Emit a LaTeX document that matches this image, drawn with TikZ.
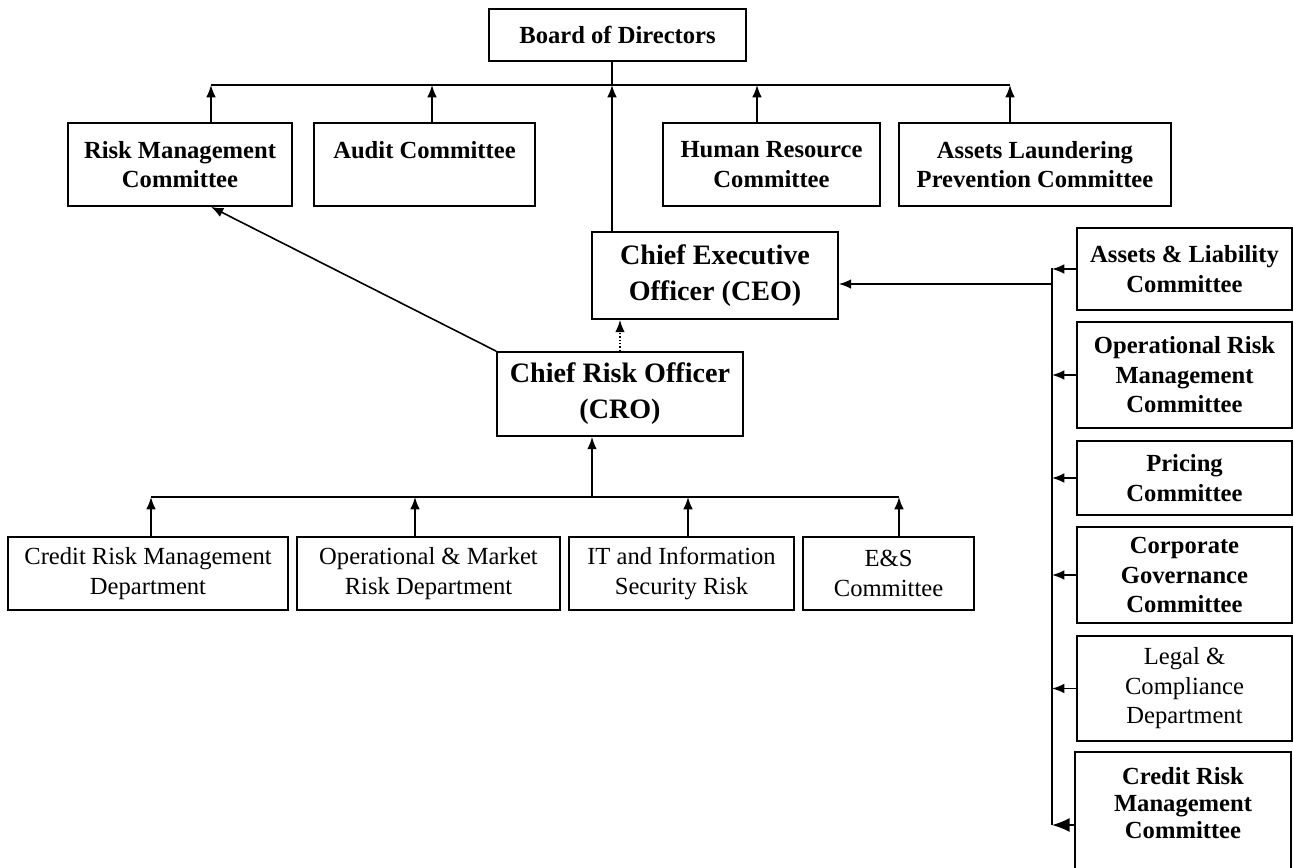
\documentclass[tikz,border=0pt]{standalone}
\usepackage{fontspec}
\setmainfont{Liberation Serif}
\usetikzlibrary{arrows.meta}

\tikzset{
  box/.style={draw, line width=1pt, align=center, inner sep=0pt,
    font=\bfseries\fontsize{14}{16.8}\selectfont},
  plainbox/.style={box, font=\fontsize{14}{16.8}\selectfont},
  bigbox/.style={box, font=\bfseries\fontsize{16}{20.5}\selectfont},
  sidebox/.style={box, minimum width=4.3cm},
}

\begin{document}
\begin{tikzpicture}[>={Latex[length=7pt,width=5.5pt]}, line width=0.9pt, x=0.02cm, y=-0.02cm]
\useasboundingbox (0,0) rectangle (1294,867);
\node[box, minimum width=5.14cm, minimum height=1.04cm] (board) at (617.5,35) {Board of Directors};
\node[box, minimum width=4.48cm, minimum height=1.66cm] (rmc) at (180,164.5) {Risk Management\\Committee};
\node[box, minimum width=4.42cm, minimum height=1.66cm] (audit) at (424.5,164.5) {Audit Committee\\\phantom{C}};
\node[box, minimum width=4.34cm, minimum height=1.66cm] (hrc) at (771.5,164.5) {Human Resource\\Committee};
\node[box, minimum width=5.44cm, minimum height=1.66cm] (alpc) at (1035,164.5) {Assets Laundering\\Prevention Committee};
\node[bigbox, minimum width=4.92cm, minimum height=1.74cm] (ceo) at (715,275.5) {Chief Executive\\Officer (CEO)};
\node[bigbox, minimum width=4.92cm, minimum height=1.68cm] (cro) at (620,394) {Chief Risk Officer\\(CRO)};
\node[plainbox, minimum width=5.6cm, minimum height=1.46cm] (crmd) at (148,573.5) {Credit Risk Management\\Department};
\node[plainbox, minimum width=5.26cm, minimum height=1.46cm] (omrd) at (428.5,573.5) {Operational \& Market\\Risk Department};
\node[plainbox, minimum width=4.5cm, minimum height=1.46cm] (itsr) at (681.5,573.5) {IT and Information\\Security Risk};
\node[plainbox, minimum width=3.42cm, minimum height=1.46cm] (es) at (888.5,573.5) {E\&S\\Committee};
\node[sidebox, minimum height=1.64cm] (alc) at (1184.5,269) {Assets \& Liability\\Committee};
\node[sidebox, minimum height=2.12cm] (ormc) at (1184.5,375) {Operational Risk\\Management\\Committee};
\node[sidebox, minimum height=1.48cm] (pc) at (1184.5,478) {Pricing\\Committee};
\node[sidebox, minimum height=1.92cm] (cgc) at (1184.5,575) {Corporate\\Governance\\Committee};
\node[sidebox, plainbox, minimum height=2.1cm] (lcd) at (1184.5,688.5) {Legal \&\\Compliance\\Department};
\node[sidebox, draw=none, minimum height=2cm, font=\bfseries\fontsize{14}{15.5}\selectfont] (crmc) at (1183,803) {Credit Risk\\Management\\Committee};
\draw[line width=1pt] ([yshift=-1cm]crmc.south west) -- (crmc.north west) -- (crmc.north east) -- ([yshift=-1cm]crmc.south east);

\coordinate (jb) at (612,85);
\coordinate (b1) at (211,85);
\coordinate (b2) at (432,85);
\coordinate (b3) at (757,85);
\coordinate (b4) at (1010,85);
\draw (b1) -- (b4);
\draw (board.south -| jb) -- (jb);
\foreach \n/\b in {rmc/b1, audit/b2, hrc/b3, alpc/b4}
  \path[->] (\n.north -| \b) edge (\b);
\path[->] (ceo.north -| jb) edge (jb);
\path[->, densely dotted] (cro.north) edge (cro.north |- ceo.south);
\path[->] (cro.north west) edge (rmc.south -| b1);

\coordinate (jc) at (592,497);
\coordinate (c1) at (151,497);
\coordinate (c2) at (415,497);
\coordinate (c3) at (688,497);
\coordinate (c4) at (899,497);
\draw (c1) -- (c4);
\path[->] (jc) edge (jc |- cro.south);
\foreach \n/\c in {crmd/c1, omrd/c2, itsr/c3, es/c4}
  \path[->] (\n.north -| \c) edge (\c);

\coordinate (ra) at (1052,268);
\coordinate (rb) at (1052,825);
\coordinate (rc) at (1052,284);
\draw (ra) -- (rb);
\path[->] (rc) edge (rc -| ceo.east);
\foreach \n in {alc, ormc, pc, cgc, lcd}
  \path[->] (\n.west) edge (\n.west -| ra);
\path[-{Latex[length=10pt,width=8pt]}] (crmc.west |- rb) edge (rb);
\end{tikzpicture}
\end{document}
